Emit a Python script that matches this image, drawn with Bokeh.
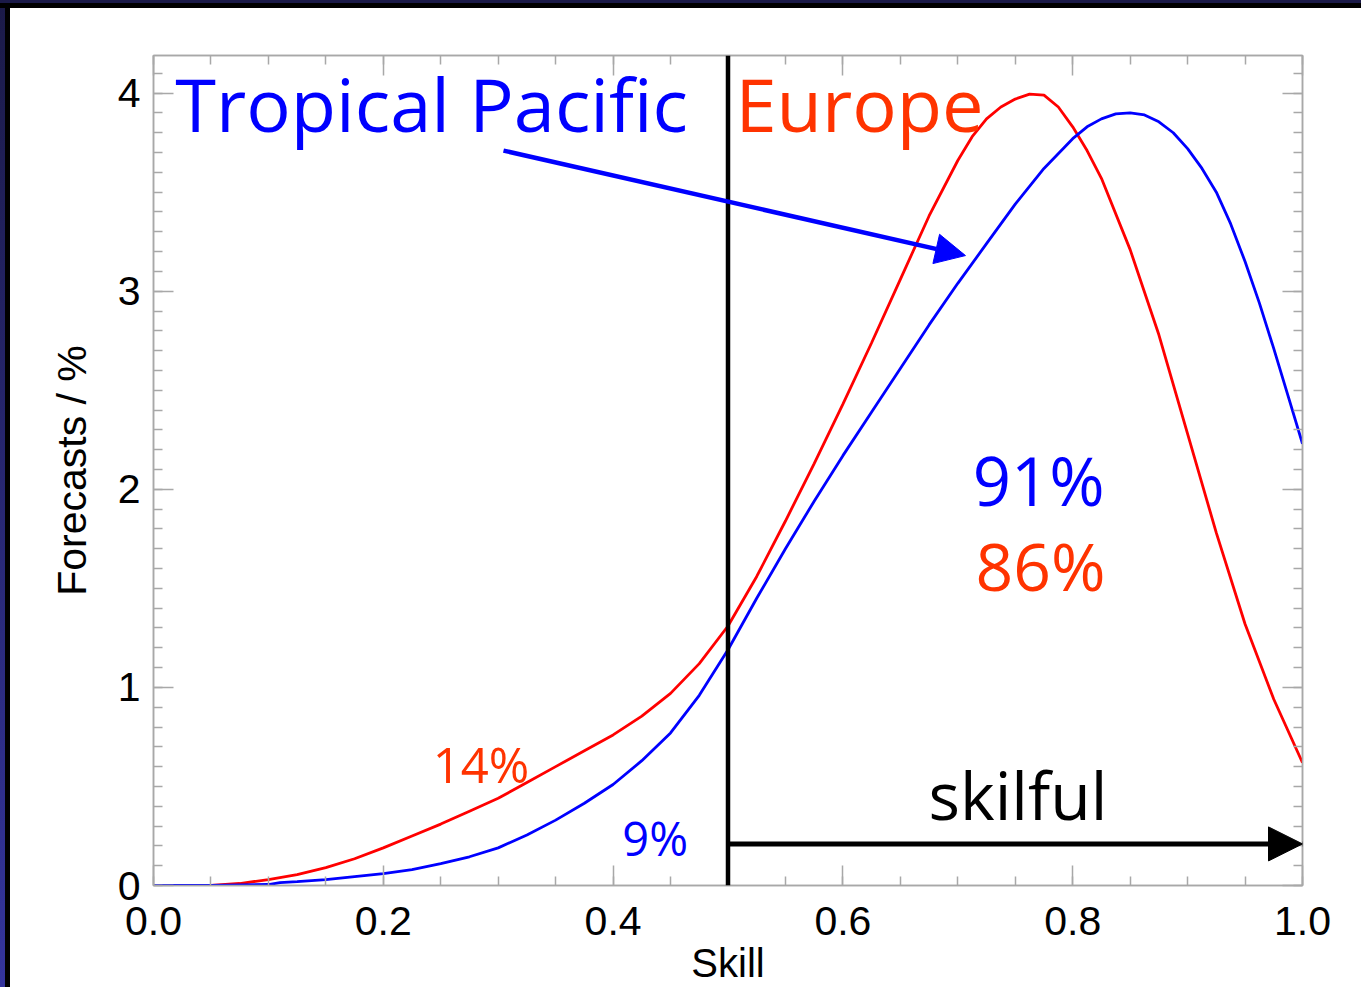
from bokeh.plotting import figure
from bokeh.models import (Range1d, LinearAxis, SingleIntervalTicker, Span, Arrow,
                          NormalHead, Label, GlobalInlineStyleSheet)
from bokeh.embed import file_html
from bokeh.resources import INLINE

# ---------------- data ----------------
europe_skill = [0.0, 0.05, 0.075, 0.10, 0.125, 0.15, 0.175, 0.20, 0.225, 0.25, 0.275,
                0.30, 0.325, 0.35, 0.375, 0.40, 0.425, 0.45, 0.475, 0.50, 0.525, 0.55,
                0.575, 0.60, 0.625, 0.65, 0.675, 0.70, 0.7125, 0.725, 0.7375, 0.75,
                0.7625, 0.775, 0.7875, 0.80, 0.8125, 0.825, 0.85, 0.875, 0.90, 0.925,
                0.95, 0.975, 1.00]
europe_pct = [0.0, 0.0, 0.01, 0.03, 0.055, 0.09, 0.135, 0.19, 0.25, 0.31, 0.375,
              0.44, 0.52, 0.60, 0.68, 0.76, 0.855, 0.97, 1.12, 1.31, 1.56, 1.84,
              2.13, 2.43, 2.74, 3.06, 3.38, 3.66, 3.78, 3.87, 3.93, 3.97,
              3.995, 3.99, 3.93, 3.83, 3.71, 3.57, 3.21, 2.78, 2.28, 1.78,
              1.32, 0.94, 0.62]

pacific_skill = [0.0, 0.05, 0.10, 0.11, 0.125, 0.15, 0.175, 0.20, 0.225, 0.25, 0.275,
                 0.30, 0.325, 0.35, 0.375, 0.40, 0.425, 0.45, 0.475, 0.50, 0.525,
                 0.55, 0.575, 0.60, 0.625, 0.65, 0.675, 0.70, 0.725, 0.75, 0.775,
                 0.80, 0.8125, 0.825, 0.8375, 0.85, 0.8625, 0.875, 0.8875, 0.90,
                 0.9125, 0.925, 0.9375, 0.95, 0.9625, 0.975, 0.9875, 1.00]
pacific_pct = [0.0, 0.0, 0.005, 0.015, 0.02, 0.03, 0.045, 0.06, 0.08, 0.11, 0.145,
               0.19, 0.255, 0.33, 0.415, 0.51, 0.63, 0.77, 0.96, 1.19, 1.45,
               1.70, 1.94, 2.17, 2.39, 2.61, 2.83, 3.04, 3.24, 3.44, 3.62,
               3.77, 3.83, 3.87, 3.895, 3.90, 3.89, 3.855, 3.80, 3.72,
               3.62, 3.50, 3.34, 3.15, 2.94, 2.71, 2.47, 2.23]

skill_threshold = 0.5
skilful_pct = {"Tropical Pacific": "91%", "Europe": "86%"}
unskilful_pct = {"Tropical Pacific": "9%", "Europe": "14%"}

BLUE = "#0000ff"
RED = "#ff0000"
ORANGE = "#ff3300"
GRAY = "#a8a8a8"
TICK_FONT = "Liberation Sans"
ANN_FONT = "Open Sans"
PX_PER_UNIT = 198.0  # vertical pixels per data unit (830 px frame / 4.19)

css = """
body::before { content: ""; position: fixed; left: 0; top: 0; width: 10px; height: 100%;
  background: linear-gradient(to right, transparent 0 5px, #000 5px 10px),
              linear-gradient(#1b1a48, #34349c);
  z-index: 1000; pointer-events: none; }
body::after { content: ""; position: fixed; left: 0; top: 0; width: 100%; height: 8px;
  background: linear-gradient(to bottom, #1b1a48 0 3px, #000 3px 8px);
  z-index: 1000; pointer-events: none; }
"""

p = figure(width=1361, height=987, output_backend="svg", toolbar_location=None,
           x_range=Range1d(0, 1.0), y_range=Range1d(0, 4.19),
           min_border_left=153, min_border_right=59, min_border_top=55,
           min_border_bottom=102, x_axis_type=None, y_axis_type=None)
p.stylesheets = [GlobalInlineStyleSheet(css=css)]
p.background_fill_color = "white"
p.border_fill_color = "white"
p.outline_line_color = GRAY
p.outline_line_width = 1.5
p.xgrid.visible = False
p.ygrid.visible = False


def style_axis(ax, labels=True):
    ax.axis_line_color = GRAY
    ax.axis_line_width = 1.5
    ax.major_tick_line_color = GRAY
    ax.minor_tick_line_color = GRAY
    ax.major_tick_line_width = 1.5
    ax.minor_tick_line_width = 1.5
    ax.major_tick_in = 20
    ax.major_tick_out = 0
    ax.minor_tick_in = 9
    ax.minor_tick_out = 0
    if labels:
        ax.major_label_text_font = TICK_FONT
        ax.major_label_text_font_size = "41px"
        ax.major_label_text_color = "black"
    else:
        ax.major_label_text_color = None
        ax.major_label_text_font_size = "10px"
        ax.major_label_standoff = 0


xb = LinearAxis(ticker=SingleIntervalTicker(interval=0.2, num_minor_ticks=4))
style_axis(xb)
xb.major_label_standoff = 21
xb.major_label_overrides = {0: "0.0", 1: "1.0"}
xb.axis_label = "Skill"
xb.axis_label_text_font = TICK_FONT
xb.axis_label_text_font_size = "40px"
xb.axis_label_text_font_style = "normal"
xb.axis_label_text_color = "black"
xb.axis_label_standoff = 3
p.add_layout(xb, "below")

xt = LinearAxis(ticker=SingleIntervalTicker(interval=0.2, num_minor_ticks=4))
style_axis(xt, labels=False)
p.add_layout(xt, "above")

yl = LinearAxis(ticker=SingleIntervalTicker(interval=1, num_minor_ticks=10))
style_axis(yl)
yl.major_label_standoff = 13
yl.axis_label = "Forecasts / %"
yl.axis_label_text_font = TICK_FONT
yl.axis_label_text_font_size = "41px"
yl.axis_label_text_font_style = "normal"
yl.axis_label_text_color = "black"
yl.axis_label_standoff = 20
p.add_layout(yl, "left")

yr = LinearAxis(ticker=SingleIntervalTicker(interval=1, num_minor_ticks=10))
style_axis(yr, labels=False)
p.add_layout(yr, "right")

# curves
p.line(europe_skill, europe_pct, line_color=RED, line_width=2.8)
p.line(pacific_skill, pacific_pct, line_color=BLUE, line_width=2.8)

# threshold line
p.add_layout(Span(location=skill_threshold, dimension="height", line_color="black",
                  line_width=4.5))

# skilful arrow
p.add_layout(Arrow(x_start=skill_threshold, y_start=0.21, x_end=1.0, y_end=0.21,
                   line_color="black", line_width=5,
                   end=NormalHead(size=34, fill_color="black", line_color="black")))

# Tropical Pacific pointer arrow
p.add_layout(Arrow(x_start=0.3046, y_start=3.71, x_end=0.7067, y_end=3.18,
                   line_color=BLUE, line_width=4.5,
                   end=NormalHead(size=30, fill_color=BLUE, line_color=BLUE)))


def add_text(txt, x, y_base, color, size_px, font=ANN_FONT, align="left"):
    # shift so that the glyph baseline lands on y_base
    y = y_base + 0.37 * size_px / PX_PER_UNIT
    p.add_layout(Label(x=x, y=y, text=txt, text_color=color, text_font=font,
                       text_font_size=f"{size_px}px", text_align=align,
                       text_baseline="alphabetic"))


add_text("Tropical Pacific", 0.019, 3.81, BLUE, 74)
add_text("Europe", 0.5065, 3.81, ORANGE, 74)
add_text(skilful_pct["Tropical Pacific"], 0.713, 1.92, BLUE, 67)
add_text(skilful_pct["Europe"], 0.7154, 1.495, ORANGE, 66)
add_text(unskilful_pct["Europe"], 0.243, 0.52, ORANGE, 49)
add_text(unskilful_pct["Tropical Pacific"], 0.408, 0.152, BLUE, 47)
add_text("skilful", 0.6745, 0.34, "black", 66)

open("out.html", "w").write(file_html(p, INLINE))
